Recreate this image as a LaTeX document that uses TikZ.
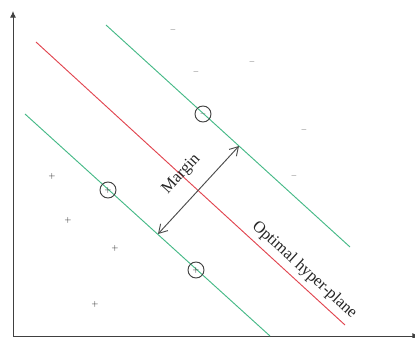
\documentclass[tikz,border=0pt]{standalone}
\usepackage{fontspec}
\setmainfont{Liberation Serif}
\usetikzlibrary{arrows.meta,positioning}
\definecolor{svgreen}{RGB}{70,185,135}
\definecolor{svred}{RGB}{225,70,80}

\begin{document}
\begin{tikzpicture}[x=0.03cm, y=-0.03cm,
  axis/.style = {thick, black!75},
  margline/.style = {thick, svgreen},
  hyper/.style = {thick, svred},
  sv/.style = {draw, circle, thick, black!75, minimum size=0.48cm, inner sep=0pt},
  possample/.style = {inner sep=0pt, font=\fontsize{7}{7}\selectfont, text=black!85},
  negsample/.style = {inner sep=0pt, font=\fontsize{6}{6}\selectfont, text=black!60},
  arrow/.style = {thick, black!70, {Straight Barb[length=2.5mm, width=3mm]}-{Straight Barb[length=2.5mm, width=3mm]}}
  ]
\useasboundingbox (0,0) rectangle (415,338);

% Axes
\coordinate (origin) at (13,336);
\coordinate (ytop) at (13,11);
\coordinate (xend) at (419,336);
\draw[axis, -{Latex[length=2mm, width=1.8mm]}] (origin) -- (ytop);
\draw[axis, -{Latex[length=2mm, width=1.8mm]}] (origin) -- (xend);

% Margin lines and hyper-plane
\coordinate (upA) at (106,25);
\coordinate (upB) at (350,247);
\coordinate (hpA) at (36,42);
\coordinate (hpB) at (345,325);
\coordinate (loA) at (25,114);
\coordinate (loB) at (270,336);
\draw[margline] (upA) -- (upB);
\draw[margline] (loA) -- (loB);
\draw[hyper] (hpA) -- node[sloped, above=1pt, pos=0.84, font=\fontsize{14}{16}\selectfont, text=black!85] {Optimal hyper-plane} (hpB);

% Negative samples
\node[negsample] (n1) at (173,30) {$-$};
\node[negsample] (n2) at (196,72) {$-$};
\node[negsample] (n3) at (252,62) {$-$};
\node[negsample] (n4) at (304,130) {$-$};
\node[negsample] (n5) at (294,176) {$-$};
\node[negsample] (n6) at (203,114) {$-$};

% Positive samples
\node[possample] (p1) at (52,176) {$+$};
\node[possample] (p2) at (68,220) {$+$};
\node[possample] (p3) at (115,248) {$+$};
\node[possample] (p4) at (95,304) {$+$};
\node[possample] (p5) at (108,190) {$+$};
\node[possample] (p6) at (196,270) {$+$};

% Support vectors
\node[sv] (sv1) at (n6) {};
\node[sv] (sv2) at (p5) {};
\node[sv] (sv3) at (p6) {};

% Margin arrow
\coordinate (mlo) at (158,234);
\coordinate (mhi) at (239,146);
\draw[arrow] (mlo) -- node[sloped, above=3.5mm, font=\fontsize{14}{16}\selectfont, text=black!85] {Margin} (mhi);
\end{tikzpicture}
\end{document}
